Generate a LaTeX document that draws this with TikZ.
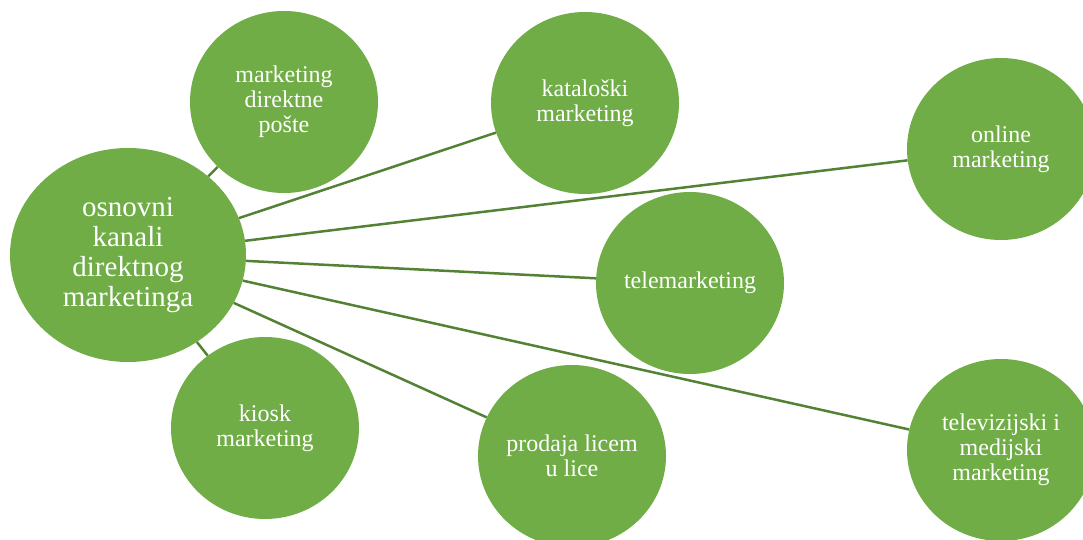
\documentclass[tikz,border=0pt]{standalone}
\usepackage{fontspec}
\setmainfont{Liberation Serif}
\usetikzlibrary{shapes.geometric}
\definecolor{bubble}{HTML}{70AD47}
\definecolor{link}{HTML}{548235}
\begin{document}
\begin{tikzpicture}[x=1pt,y=-1pt,
  bub/.style={ellipse, fill=bubble, text=white, align=center, inner sep=0pt,
    minimum width=188pt, minimum height=182pt, font=\fontsize{24}{25}\selectfont},
  hub/.style={bub, minimum width=236pt, minimum height=214pt, font=\fontsize{29}{30}\selectfont},
  conn/.style={draw=link, line width=2.5pt}]
\useasboundingbox (0,0) rectangle (1083,540);
\node[hub] (c) at (128,255) {osnovni\\kanali\\direktnog\\marketinga};
\node[bub] (posta) at (284,102) {marketing\\direktne\\pošte};
\node[bub] (katalog) at (585,103) {kataloški\\marketing};
\node[bub] (online) at (1001,149) {online\\marketing};
\node[bub] (tele) at (690,283) {telemarketing};
\node[bub] (tv) at (1001,450) {televizijski i\\medijski\\marketing};
\node[bub] (prodaja) at (572,456) {prodaja licem\\u lice};
\node[bub] (kiosk) at (265,428) {kiosk\\marketing};
\foreach \t in {posta,katalog,online,tele,tv,prodaja,kiosk}
  \draw[conn] (c) -- (\t);
\end{tikzpicture}
\end{document}
